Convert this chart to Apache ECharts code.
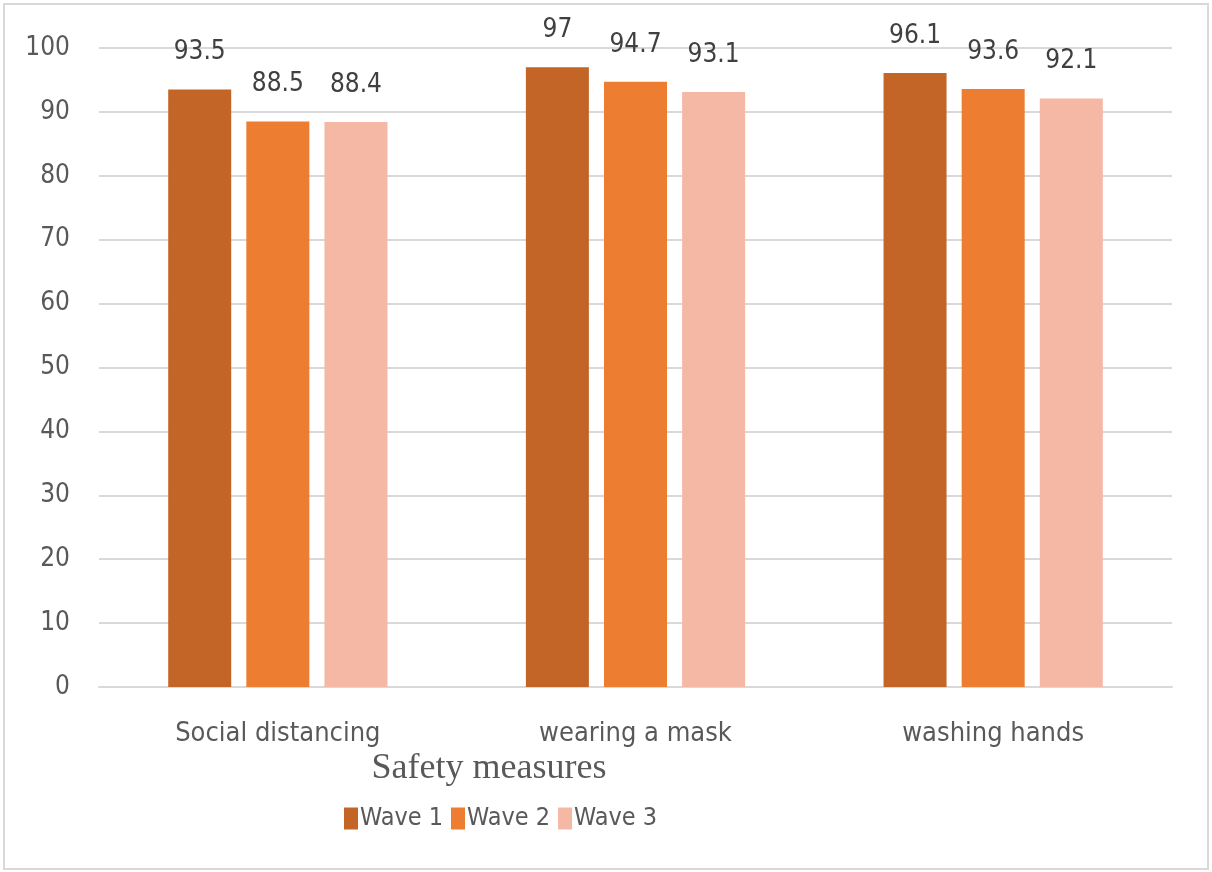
<!DOCTYPE html>
<html><head><meta charset="utf-8">
<script src="https://cdn.jsdelivr.net/npm/echarts@6/dist/echarts.min.js"></script>
<style>html,body{margin:0;padding:0;background:#fff}#c{width:1212px;height:872px}</style>
</head><body><div id="c"></div>
<script>
const categories = ['Social distancing', 'wearing a mask', 'washing hands'];
const seriesNames = ['Wave 1', 'Wave 2', 'Wave 3'];
const wave1 = [93.5, 97, 96.1];
const wave2 = [88.5, 94.7, 93.6];
const wave3 = [88.4, 93.1, 92.1];
const colors = ['#C46528', '#ED7D31', '#F4B8A4'];
const FONT = '"Liberation Sans Narrow", "DejaVu Sans Condensed", sans-serif';
const TXT = '#595959';
const chart = echarts.init(document.getElementById('c'));
const data = [wave1, wave2, wave3];
chart.setOption({
  animation: false,
  title: {
    text: 'Safety measures', left: 484, top: 746, textAlign: 'center',
    textStyle: {fontFamily: '"Liberation Serif", serif', fontSize: 36, fontWeight: 'normal', color: TXT}
  },
  graphic: [{type: 'rect', shape: {x: 4, y: 4, width: 1204, height: 865}, style: {fill: 'none', stroke: '#d9d9d9', lineWidth: 2}, silent: true}],
  grid: {left: 99, right: 40, top: 48, bottom: 185},
  legend: {
    data: seriesNames, top: 801, left: 339, itemWidth: 14, itemHeight: 22, itemGap: 8, icon: 'rect',
    textStyle: {fontFamily: FONT, fontSize: 25, color: TXT, padding: [2,0,0,-3]}
  },
  xAxis: {
    type: 'category', data: categories,
    axisLine: {lineStyle: {color: '#d9d9d9', width: 2}}, axisTick: {show: false},
    axisLabel: {fontFamily: FONT, fontSize: 27, color: TXT, margin: 33}
  },
  yAxis: {
    type: 'value', min: 0, max: 100, interval: 10,
    axisLine: {show: false}, axisTick: {show: false},
    splitLine: {lineStyle: {color: '#d9d9d9', width: 2}},
    axisLabel: {fontFamily: FONT, fontSize: 26, color: TXT, margin: 29}
  },
  series: seriesNames.map((n, i) => ({
    name: n, type: 'bar', data: data[i], barWidth: 63, barGap: '24%',
    itemStyle: {color: colors[i]},
    label: {show: true, position: 'top', distance: 24, fontFamily: FONT, fontSize: 26, color: '#404040'}
  }))
});
</script></body></html>
